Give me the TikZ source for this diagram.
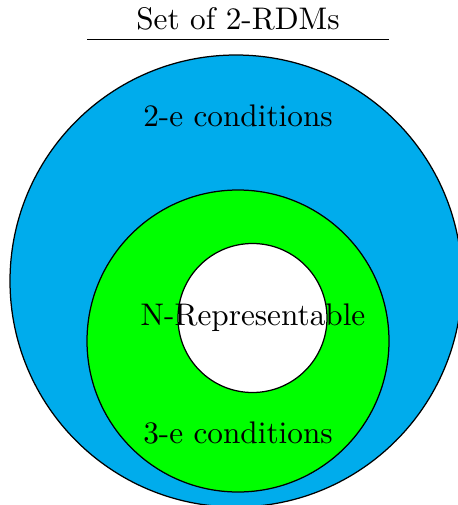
\documentclass[tikz,border=0pt]{standalone}
\usepackage{xcolor}
\usetikzlibrary{positioning}
\definecolor{setblue}{RGB}{0,172,236}
\definecolor{setgreen}{RGB}{0,255,0}
\tikzset{
  setdisc/.style={circle, draw=black, inner sep=0pt},
  condlabel/.style={align=center, inner sep=1pt}
}

\begin{document}
\begin{tikzpicture}[x=0.32pt, y=-0.32pt]
\useasboundingbox (0,0) rectangle (457,505);
\node[setdisc, fill=setblue, minimum size=452*0.32pt] (twoe) at (236,281) {};
\node[setdisc, fill=setgreen, minimum size=302*0.32pt] (threee) at (238,341) {};
\node[setdisc, fill=white, minimum size=149*0.32pt] (nrep) at (252.5,318) {};

\node[condlabel] (title) at (238,19) {Set of 2-RDMs};
\coordinate (rulel) at (87,39);
\coordinate (ruler) at (389,39);
\draw[line width=0.3pt] (rulel)--(ruler);

\node[condlabel] (twoelabel) at (238,116) {2-e conditions};
\node[condlabel] (nreplabel) at (253,318) {N-Representable};
\node[condlabel] (threeelabel) at (238,433) {3-e conditions};
\end{tikzpicture}
\end{document}
